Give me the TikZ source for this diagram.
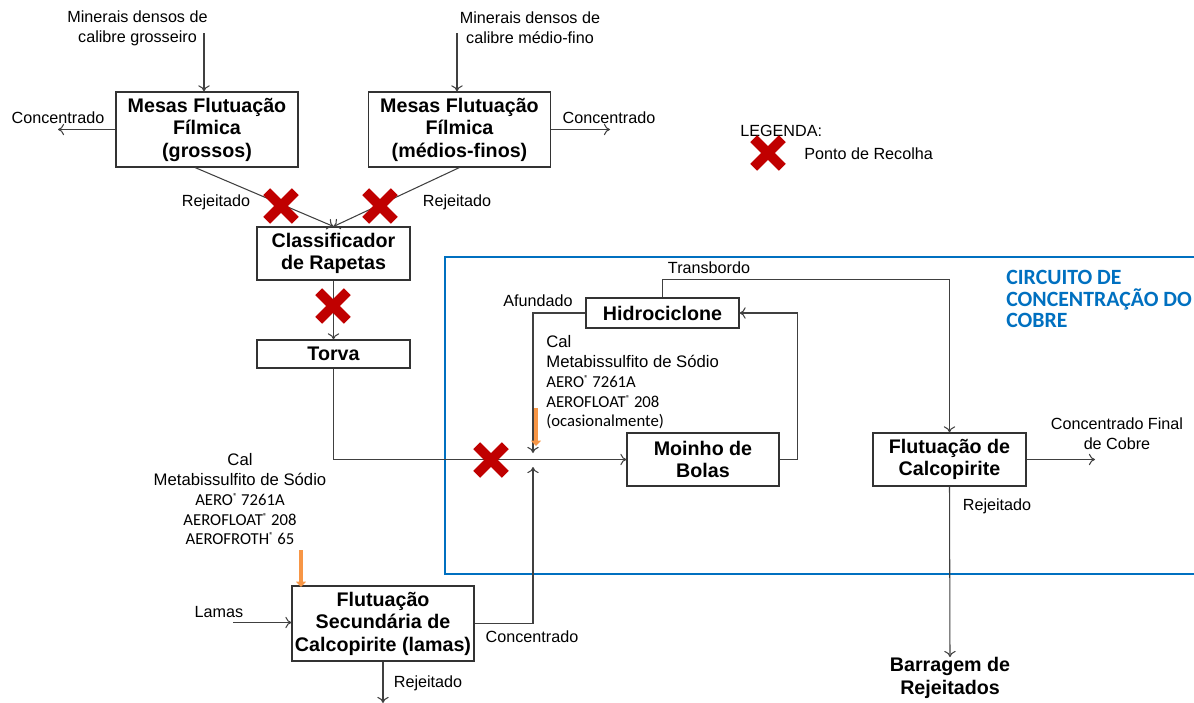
\documentclass[tikz,border=0pt]{standalone}
\usepackage{fontspec}
\setmainfont{Liberation Sans}
\newfontfamily\calib{Carlito}
\usetikzlibrary{arrows.meta,shapes.misc}

\definecolor{linha}{HTML}{404040}
\definecolor{azul}{HTML}{0070C0}
\definecolor{vermelho}{HTML}{C00000}
\definecolor{laranja}{HTML}{F79646}

\newcommand{\marca}{\raisebox{0.75ex}{\fontsize{5}{5}\selectfont ®}}

\begin{document}
\begin{tikzpicture}[x=0.02cm, y=-0.02cm, >={To[length=3.5pt,width=6.5pt]},
    caixa/.style={draw=black!80, line width=0.6pt, align=center, inner sep=0pt,
        font=\fontsize{11.2}{12.8}\selectfont\bfseries},
    rotulo/.style={font=\fontsize{9.2}{11.3}\selectfont, inner sep=0pt, align=center},
    fluxo/.style={draw=linha, line width=0.6pt},
    recolha/.style={cross out, draw=vermelho, line width=5.5pt, minimum size=0.38cm, inner sep=0pt},
    reagente/.style={draw=laranja, line width=2.8pt, -{Triangle[length=3pt,width=5.5pt]}}]
    \useasboundingbox (0,0) rectangle (1194,703);

    % circuito de concentracao do cobre (aberto a direita)
    \draw[azul, line width=1.3pt] (1200,257) -- (445,257) -- (445,574) -- (1200,574);
    \node[font=\calib\fontsize{12.4}{12.2}\selectfont\bfseries, text=azul, align=left, inner sep=0pt,
        anchor=north west] (circuito) at (1006,270) {CIRCUITO DE\\CONCENTRAÇÃO DO\\COBRE};

    % caixas do processo
    \node[caixa, minimum width=3.64cm, minimum height=1.5cm] (mesasg) at (207,129.5) {Mesas Flutuação\\Fílmica\\(grossos)};
    \node[caixa, minimum width=3.64cm, minimum height=1.5cm] (mesasm) at (459.5,129.5) {Mesas Flutuação\\Fílmica\\(médios-finos)};
    \node[caixa, minimum width=3.06cm, minimum height=1.06cm] (classif) at (333.5,253.5) {Classificador\\de Rapetas};
    \node[caixa, minimum width=3.06cm, minimum height=0.56cm] (torva) at (333.5,354) {Torva};
    \node[caixa, minimum width=3.06cm, minimum height=0.6cm] (hidro) at (662.5,313) {Hidrociclone};
    \node[caixa, minimum width=3.04cm, minimum height=1.06cm] (moinho) at (703,459.5) {Moinho de\\Bolas};
    \node[caixa, minimum width=3.06cm, minimum height=1.06cm] (calco) at (949.5,459.5) {Flutuação de\\Calcopirite};
    \node[caixa, minimum width=3.64cm, minimum height=1.5cm] (secund) at (383,623.5) {Flutuação\\Secundária de\\Calcopirite (lamas)};
    \node[caixa, draw=none] (barragem) at (950,678) {Barragem de\\Rejeitados};

    % entradas de minerais densos
    \node[rotulo] (minerg) at (137.5,28) {Minerais densos de\\calibre grosseiro};
    \node[rotulo] (minerm) at (530,28) {Minerais densos de\\calibre médio-fino};
    \coordinate (entg) at (204,33);
    \coordinate (entm) at (457,33);
    \draw[fluxo,->] (entg) -- (entg |- mesasg.north);
    \draw[fluxo,->] (entm) -- (entm |- mesasm.north);

    % concentrados das mesas
    \coordinate (concg) at (58,129.5);
    \coordinate (concm) at (610,129.5);
    \draw[fluxo,->] (mesasg.west) -- (concg);
    \draw[fluxo,->] (mesasm.east) -- (concm);
    \node[rotulo] (lconcg) at (58,118) {Concentrado};
    \node[rotulo] (lconcm) at (609,118) {Concentrado};

    % rejeitados das mesas para o classificador
    \draw[fluxo,->] ([xshift=-0.24cm]mesasg.south) -- (classif.north);
    \draw[fluxo,->] (mesasm.south) -- (classif.north);
    \node[rotulo] (lrejg) at (216,202) {Rejeitado};
    \node[rotulo] (lrejm) at (457,202) {Rejeitado};

    % classificador -> torva -> moinho
    \draw[fluxo,->] (classif.south) -- (torva.north);
    \draw[fluxo,->] (torva.south) |- (moinho.west);

    % ciclo moinho / hidrociclone
    \coordinate (jtop) at (533,453);
    \coordinate (jbot) at (533,467);
    \draw[fluxo,->] (moinho.east) -- ++(18,0) |- (hidro.east);
    \draw[fluxo,->] (hidro.west) -| (jtop);
    \draw[fluxo,->] (hidro.north) -- ++(0,-18) -| (calco.north);
    \node[rotulo] (lafund) at (538,301) {Afundado};
    \node[rotulo] (ltransb) at (709,268) {Transbordo};

    % reagentes do moinho
    \draw[reagente] (536,408) -- (536,446);
    \node[rotulo, align=left, anchor=north west, font=\fontsize{9.5}{11.3}\selectfont] (reag1) at (546,335)
        {Cal\\Metabissulfito de Sódio\\{\calib AERO\marca\ 7261A}\\{\calib AEROFLOAT\marca\ 208}\\{\calib (ocasionalmente)}};

    % flutuacao de calcopirite
    \coordinate (cfinal) at (1095,459.5);
    \draw[fluxo,->] (calco.east) -- (cfinal);
    \node[rotulo] (lcfinal) at (1117,434) {Concentrado Final\\de Cobre};
    \draw[fluxo,->] (calco.south) -- (barragem.north);
    \node[rotulo] (lrejc) at (997,506) {Rejeitado};

    % flutuacao secundaria (lamas)
    \draw[reagente] (301,550) -- (301,587);
    \node[rotulo, anchor=north, font=\fontsize{9.5}{11.3}\selectfont] (reag2) at (240,453)
        {Cal\\Metabissulfito de Sódio\\{\calib AERO\marca\ 7261A}\\{\calib AEROFLOAT\marca\ 208}\\{\calib AEROFROTH\marca\ 65}};
    \coordinate (lamas) at (233,622.5);
    \draw[fluxo,->] (lamas) -- (lamas -| secund.west);
    \node[rotulo] (llamas) at (219,612) {Lamas};
    \draw[fluxo,->] (secund.east) -| (jbot);
    \node[rotulo] (lconcs) at (532,637) {Concentrado};
    \coordinate (rejs) at (383,703);
    \draw[fluxo,->] (secund.south) -- (rejs);
    \node[rotulo] (lrejs) at (428,683) {Rejeitado};

    % pontos de recolha
    \node[recolha] (x1) at (281,206) {};
    \node[recolha] (x2) at (380,206) {};
    \node[recolha] (x3) at (333,306) {};
    \node[recolha] (x4) at (491,460) {};

    % legenda
    \node[rotulo, anchor=west] (legenda) at (740,131) {LEGENDA:};
    \node[recolha] (xleg) at (768,153) {};
    \node[rotulo, anchor=west] (lleg) at (804,154) {Ponto de Recolha};
\end{tikzpicture}
\end{document}
